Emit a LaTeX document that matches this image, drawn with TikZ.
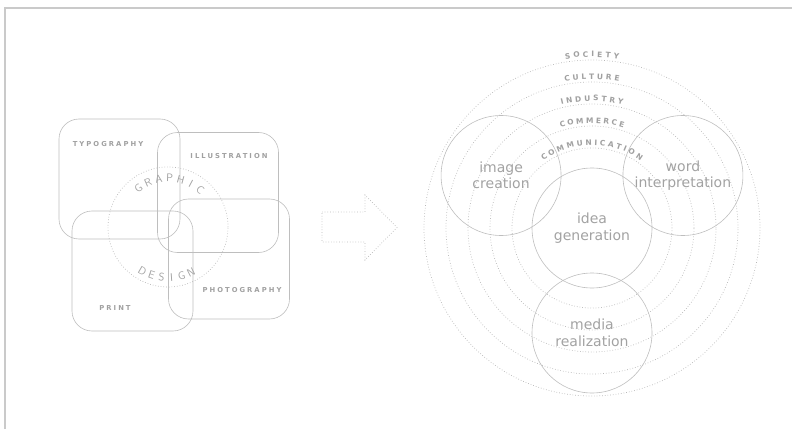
\documentclass[tikz,border=0pt]{standalone}
\usepackage{fontspec}
\usepackage{xcolor}
\usepackage{tikz}
\usetikzlibrary{decorations.text}

\newfontfamily\vera{DejaVu Sans}
\newfontfamily\veratag[LetterSpace=30]{DejaVu Sans Bold}
\newfontfamily\verabold{DejaVu Sans Bold}

\definecolor{framegray}{HTML}{CACACA}
\definecolor{linegray}{HTML}{BEBEBE}
\definecolor{dotgray}{HTML}{B8B8B8}
\definecolor{textgray}{HTML}{A2A2A2}
\definecolor{taggray}{HTML}{A0A0A0}

\newcommand\ringfont{\verabold\fontsize{7.5}{7.5}\selectfont}

\begin{document}
\begin{tikzpicture}[x=1pt, y=1pt,
        card/.style = { rectangle, rounded corners=20pt, draw=linegray, line width=0.6pt, minimum width=121pt, minimum height=120pt },
        tag/.style = { font={\veratag\fontsize{6.8}{7}\selectfont}, text=taggray, inner sep=0pt },
        bubble/.style = { circle, draw=linegray, line width=0.6pt, minimum size=120pt, inner sep=0pt, align=center, text=textgray, font={\vera\fontsize{14}{16.5}\selectfont} },
        ring/.style = { draw=dotgray, dotted, line width=0.7pt },
        ringtext/.style = { decorate, decoration={text along path, text align={fit to path}, raise=3pt, text color=taggray} },
        letter/.style = { font={\sffamily\fontsize{11}{11}\selectfont}, text=textgray, inner sep=0pt },
    ]
    \useasboundingbox (0,0) rectangle (792,429);

    % frame
    \draw[framegray, line width=1.4pt] (5,0) -- (5,421) -- (792,421);

    % graphic design fields
    \node[card] (typo)  at (119.5,250) {};
    \node[card] (illu)  at (218,236.5) {};
    \node[card] (print) at (132.5,158) {};
    \node[card] (photo) at (229,170) {};

    \node[tag] (typolbl)  at (108,285) {TYPOGRAPHY};
    \node[tag] (illulbl)  at (229,273) {ILLUSTRATION};
    \node[tag] (photolbl) at (242,139) {PHOTOGRAPHY};
    \node[tag] (printlbl) at (115,121) {PRINT};

    \coordinate (gd) at (168,202);
    \draw[ring] (gd) circle[radius=60];
    \foreach \ch [count=\i] in {G,R,A,P,H,I,C}
        \node[letter, rotate={140-13*\i-90}] (gr\i) at ([shift={(140-13*\i:49)}]gd) {\ch};
    \foreach \ch [count=\i] in {D,E,S,I,G,N}
        \node[letter, rotate={228.5+11.4*\i+90}] (de\i) at ([shift={(228.5+11.4*\i:51)}]gd) {\ch};

    % arrow
    \draw[ring] (322,217) -- (365,217) -- (365,234) -- (397,201.5)
        -- (365,169) -- (365,187) -- (322,187) -- cycle;

    % rings
    \coordinate (ctr) at (592,201);
    \foreach \r in {80,102,124,146,168}
        \draw[ring] (ctr) circle[radius=\r];

    \path[ringtext, decoration={text={|\ringfont|SOCIETY}}]
        ([shift={(99:168)}]ctr) arc[start angle=99, end angle=81, radius=168];
    \path[ringtext, decoration={text={|\ringfont|CULTURE}}]
        ([shift={(100.5:146)}]ctr) arc[start angle=100.5, end angle=79.5, radius=146];
    \path[ringtext, decoration={text={|\ringfont|INDUSTRY}}]
        ([shift={(104:124)}]ctr) arc[start angle=104, end angle=76, radius=124];
    \path[ringtext, decoration={text={|\ringfont|COMMERCE}}]
        ([shift={(107.5:102)}]ctr) arc[start angle=107.5, end angle=72.5, radius=102];
    \path[ringtext, decoration={text={|\ringfont|COMMUNICATION}}]
        ([shift={(126:80)}]ctr) arc[start angle=126, end angle=54, radius=80];

    % process circles
    \node[bubble] (idea)  at (ctr) {idea\\generation};
    \node[bubble] (image) at ([shift={(150:105)}]ctr) {image\\creation};
    \node[bubble] (word)  at ([shift={(30:105)}]ctr) {word\\interpretation};
    \node[bubble] (media) at ([shift={(270:105)}]ctr) {media\\realization};
\end{tikzpicture}
\end{document}
